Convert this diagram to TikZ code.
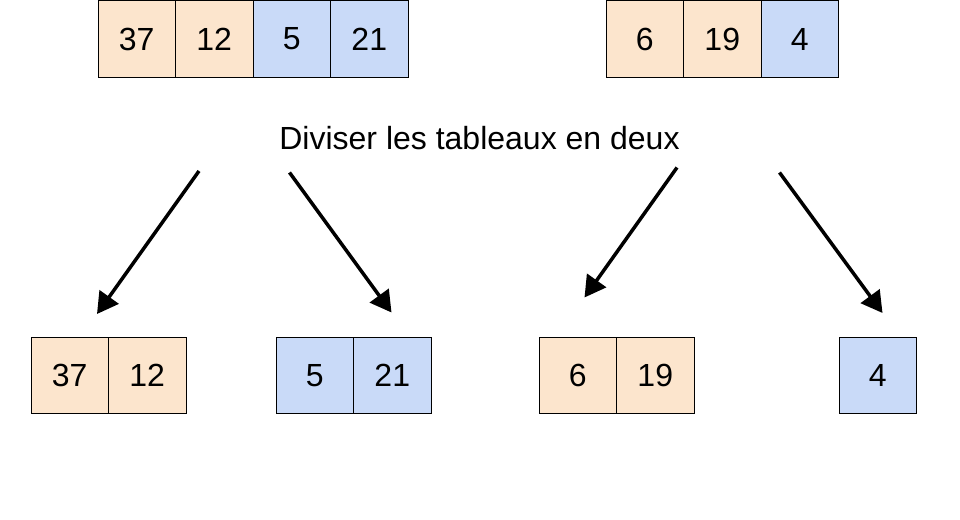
\documentclass[tikz,border=0pt]{standalone}
\usepackage{fontspec}
\setmainfont{Liberation Sans}
\usetikzlibrary{arrows.meta}
\definecolor{peach}{HTML}{FCE5CD}
\definecolor{lblue}{HTML}{C9DAF8}
\begin{document}
\begin{tikzpicture}[x=1pt,y=-1pt,
  cell/.style={draw=black,line width=1pt,minimum width=77.5pt,minimum height=76pt,inner sep=0pt,anchor=north west,font=\fontsize{32}{38}\selectfont},
  pc/.style={cell,fill=peach},
  bc/.style={cell,fill=lblue},
  arr/.style={line width=3.5pt,-{Triangle[length=21pt,width=23pt]}}]
\useasboundingbox (0,0) rectangle (960,519);
% top arrays
\node[pc] (a1) at (97.5,0.5) {37};
\node[pc] (a2) at (175,0.5) {12};
\node[bc] (a3) at (252.5,0.5) {5};
\node[bc] (a4) at (330,0.5) {21};
\node[pc] (b1) at (605.5,0.5) {6};
\node[pc] (b2) at (683,0.5) {19};
\node[bc] (b3) at (760.5,0.5) {4};
% label
\node[anchor=base,font=\fontsize{32}{38}\selectfont,inner sep=0pt] (lbl) at (479.5,149.3) {Diviser les tableaux en deux};
% bottom arrays
\node[pc] (c1) at (30.5,337) {37};
\node[pc] (c2) at (108,337) {12};
\node[bc] (d1) at (275.5,337) {5};
\node[bc] (d2) at (353,337) {21};
\node[pc] (e1) at (538.5,337) {6};
\node[pc] (e2) at (616,337) {19};
\node[bc] (f1) at (838.5,337) {4};
% arrows
\coordinate (s1) at (199,171);
\coordinate (t1) at (97,314);
\coordinate (s2) at (289.5,172.5);
\coordinate (t2) at (391.5,312.5);
\coordinate (s3) at (677,167.5);
\coordinate (t3) at (584.5,297.5);
\coordinate (s4) at (779.5,172.5);
\coordinate (t4) at (882.5,313);
\draw[arr] (s1) -- (t1);
\draw[arr] (s2) -- (t2);
\draw[arr] (s3) -- (t3);
\draw[arr] (s4) -- (t4);
\end{tikzpicture}
\end{document}
